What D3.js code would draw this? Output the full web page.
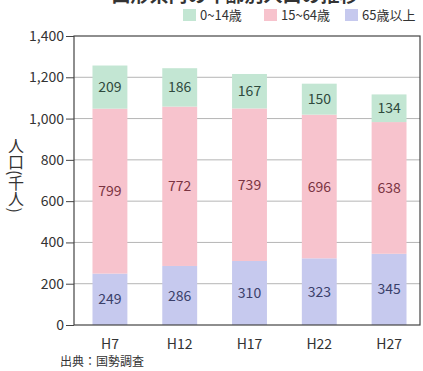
<!DOCTYPE html>
<html>
<head>
<meta charset="utf-8">
<script src="https://cdn.jsdelivr.net/npm/d3@7"></script>
<style>
  body { margin: 0; background: #fff; }
  svg text { font-family: "Noto Sans CJK JP", "Noto Sans", sans-serif; }
</style>
</head>
<body>
<svg id="chart" width="423" height="371"></svg>
<script>
// data
var years = ["H7", "H12", "H17", "H22", "H27"];
var age0_14 = [209, 186, 167, 150, 134];
var age15_64 = [799, 772, 739, 696, 638];
var age65 = [249, 286, 310, 323, 345];
var yTicks = [0, 200, 400, 600, 800, 1000, 1200, 1400];
var seriesNames = ["0~14歳", "15~64歳", "65歳以上"];

var colors = ["#c3e6d3", "#f7c3cd", "#c6c9ee"];
var textColors = ["#2f4a3d", "#7a3442", "#3a3f6a"];

var svg = d3.select("#chart");
var margin = {left: 74, right: 3, top: 36, bottom: 46};
var width = 423 - margin.left - margin.right,
    height = 371 - margin.top - margin.bottom;

var g = svg.append("g").attr("transform", "translate(" + margin.left + "," + margin.top + ")");

// bars sit slightly right of centre in the original
var x = d3.scaleBand().domain(years).range([0, 351]).paddingInner(0.5).paddingOuter(0.265);
var y = d3.scaleLinear().domain([0, 1400]).range([height, 0]);

// build stacked table
var table = years.map(function (yr, i) {
    return {year: yr, a: age65[i], b: age15_64[i], c: age0_14[i]};
});
var stack = d3.stack().keys(["a", "b", "c"])(table);
var colorOf = {a: colors[2], b: colors[1], c: colors[0]};
var textOf = {a: textColors[2], b: textColors[1], c: textColors[0]};

// grid
g.selectAll(".grid").data(yTicks.slice(1, -1)).enter().append("line")
    .attr("x1", 0).attr("x2", width)
    .attr("y1", function (d) { return y(d); })
    .attr("y2", function (d) { return y(d); })
    .attr("stroke", "#b5b5b5").attr("stroke-width", 1);

// bars
stack.forEach(function (s) {
    g.selectAll(".bar-" + s.key).data(s).enter().append("rect")
        .attr("x", function (d) { return x(d.data.year); })
        .attr("width", x.bandwidth())
        .attr("y", function (d) { return y(d[1]); })
        .attr("height", function (d) { return y(d[0]) - y(d[1]); })
        .attr("fill", colorOf[s.key]);

    g.selectAll(".lab-" + s.key).data(s).enter().append("text")
        .attr("x", function (d) { return x(d.data.year) + x.bandwidth() / 2; })
        .attr("y", function (d) { return (y(d[0]) + y(d[1])) / 2; })
        .attr("dy", "0.36em")
        .attr("text-anchor", "middle")
        .attr("font-size", 14)
        .attr("fill", textOf[s.key])
        .text(function (d) { return d.data[s.key]; });
});

// frame
g.append("rect").attr("x", 0).attr("y", 0).attr("width", width).attr("height", height)
    .attr("fill", "none").attr("stroke", "#444").attr("stroke-width", 1.2);

// y axis
var yAxis = g.append("g").call(d3.axisLeft(y).tickValues(yTicks).tickSize(8).tickFormat(d3.format(",")));
yAxis.select(".domain").remove();
yAxis.selectAll("line").attr("stroke", "#444");
yAxis.selectAll("text").attr("font-size", 14).attr("fill", "#333").attr("x", -10);

// x axis labels
g.selectAll(".xl").data(years).enter().append("text")
    .attr("x", function (d) { return x(d) + x.bandwidth() / 2; })
    .attr("y", height + 24)
    .attr("text-anchor", "middle")
    .attr("font-size", 14)
    .attr("fill", "#333")
    .text(function (d) { return d; });

// y label, vertical
svg.append("text")
    .attr("x", 16).attr("y", 138)
    .style("writing-mode", "vertical-rl")
    .attr("font-size", 16)
    .attr("fill", "#333")
    .text("人口(千人)");

// title (cut off at top)
svg.append("text")
    .attr("x", 235).attr("y", 2)
    .attr("text-anchor", "middle")
    .attr("font-size", 19)
    .attr("font-weight", "bold")
    .attr("fill", "#333")
    .text("山形県内の年齢別人口の推移");

// legend
var legendX = [183, 264, 345];
seriesNames.forEach(function (name, i) {
    svg.append("rect").attr("x", legendX[i]).attr("y", 9).attr("width", 13).attr("height", 12)
        .attr("fill", colors[i]);
    svg.append("text").attr("x", legendX[i] + 17).attr("y", 15.5).attr("dy", "0.36em")
        .attr("font-size", 13).attr("fill", "#333").text(name);
});

// source
svg.append("text").attr("x", 60).attr("y", 362).attr("dy", "0.36em")
    .attr("font-size", 12).attr("fill", "#333").text("出典：国勢調査");
</script>
</body>
</html>
